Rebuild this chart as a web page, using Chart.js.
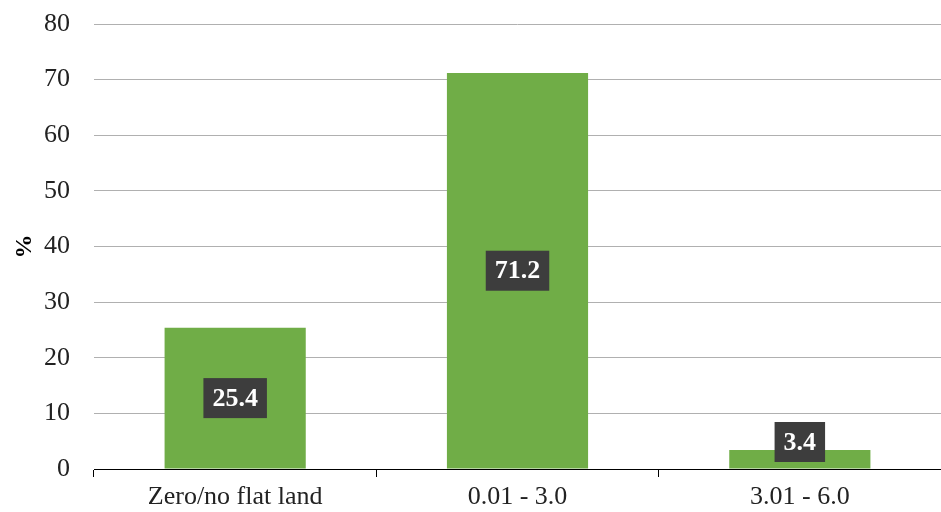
<!DOCTYPE html>
<html>
<head>
<meta charset="utf-8">
<script src="https://cdn.jsdelivr.net/npm/chart.js@4.4.1/dist/chart.umd.min.js"></script>
<style>
  html, body { margin: 0; padding: 0; background: #fff; }
  #wrap { width: 941px; height: 512px; }
</style>
</head>
<body>
<div id="wrap"><canvas id="barChart"></canvas></div>
<script>
const categories = ['Zero/no flat land', '0.01 - 3.0', '3.01 - 6.0'];
const shares = [25.4, 71.2, 3.4];
const yTicks = [0, 10, 20, 30, 40, 50, 60, 70, 80];

const serif = '"Liberation Serif", "Times New Roman", serif';

// dark boxed value labels in the middle of each bar
const boxLabels = {
  id: 'boxLabels',
  afterDatasetsDraw(chart) {
    const { ctx, chartArea } = chart;
    const meta = chart.getDatasetMeta(0);
    ctx.save();
    ctx.font = 'bold 26px ' + serif;
    ctx.textAlign = 'center';
    ctx.textBaseline = 'middle';
    meta.data.forEach((bar, i) => {
      const txt = shares[i].toFixed(1);
      const w = ctx.measureText(txt).width + 18;
      const h = 40;
      let cy = (bar.y + bar.base) / 2;
      cy = Math.min(cy, chartArea.bottom - 7 - h / 2);
      ctx.fillStyle = '#3d3d3d';
      ctx.fillRect(bar.x - w / 2, cy - h / 2, w, h);
      ctx.fillStyle = '#ffffff';
      ctx.fillText(txt, bar.x, cy + 1);
    });
    ctx.restore();
  }
};

new Chart(document.getElementById('barChart'), {
  type: 'bar',
  data: {
    labels: categories,
    datasets: [{ data: shares, backgroundColor: '#70ad47', barPercentage: 0.5, categoryPercentage: 1 }]
  },
  options: {
    responsive: true,
    maintainAspectRatio: false,
    animation: false,
    layout: { padding: { top: 24, right: 0, left: 0, bottom: 0 } },
    plugins: { legend: { display: false }, tooltip: { enabled: false } },
    scales: {
      x: {
        grid: { drawOnChartArea: false, drawTicks: true, tickLength: 8, color: '#000', offset: true },
        border: { color: '#000', width: 1 },
        ticks: { color: '#222', font: { family: serif, size: 26 }, padding: 5 },
        afterFit: s => { s.height = 43; s.paddingLeft = 0; s.paddingRight = 0; }
      },
      y: {
        min: 0, max: 80,
        afterBuildTicks: s => { s.ticks = yTicks.map(v => ({ value: v })); },
        grid: { color: '#b0b0b0', lineWidth: 1, drawTicks: false },
        border: { display: false },
        ticks: { color: '#222', font: { family: serif, size: 26 }, padding: 24 },
        title: { display: true, text: '%', color: '#000', font: { family: serif, size: 24, weight: 'bold' }, padding: { top: 10, bottom: 0 } },
        afterFit: s => { s.width = 94; s.paddingTop = 0; s.paddingBottom = 0; }
      }
    }
  },
  plugins: [boxLabels]
});
</script>
</body>
</html>
